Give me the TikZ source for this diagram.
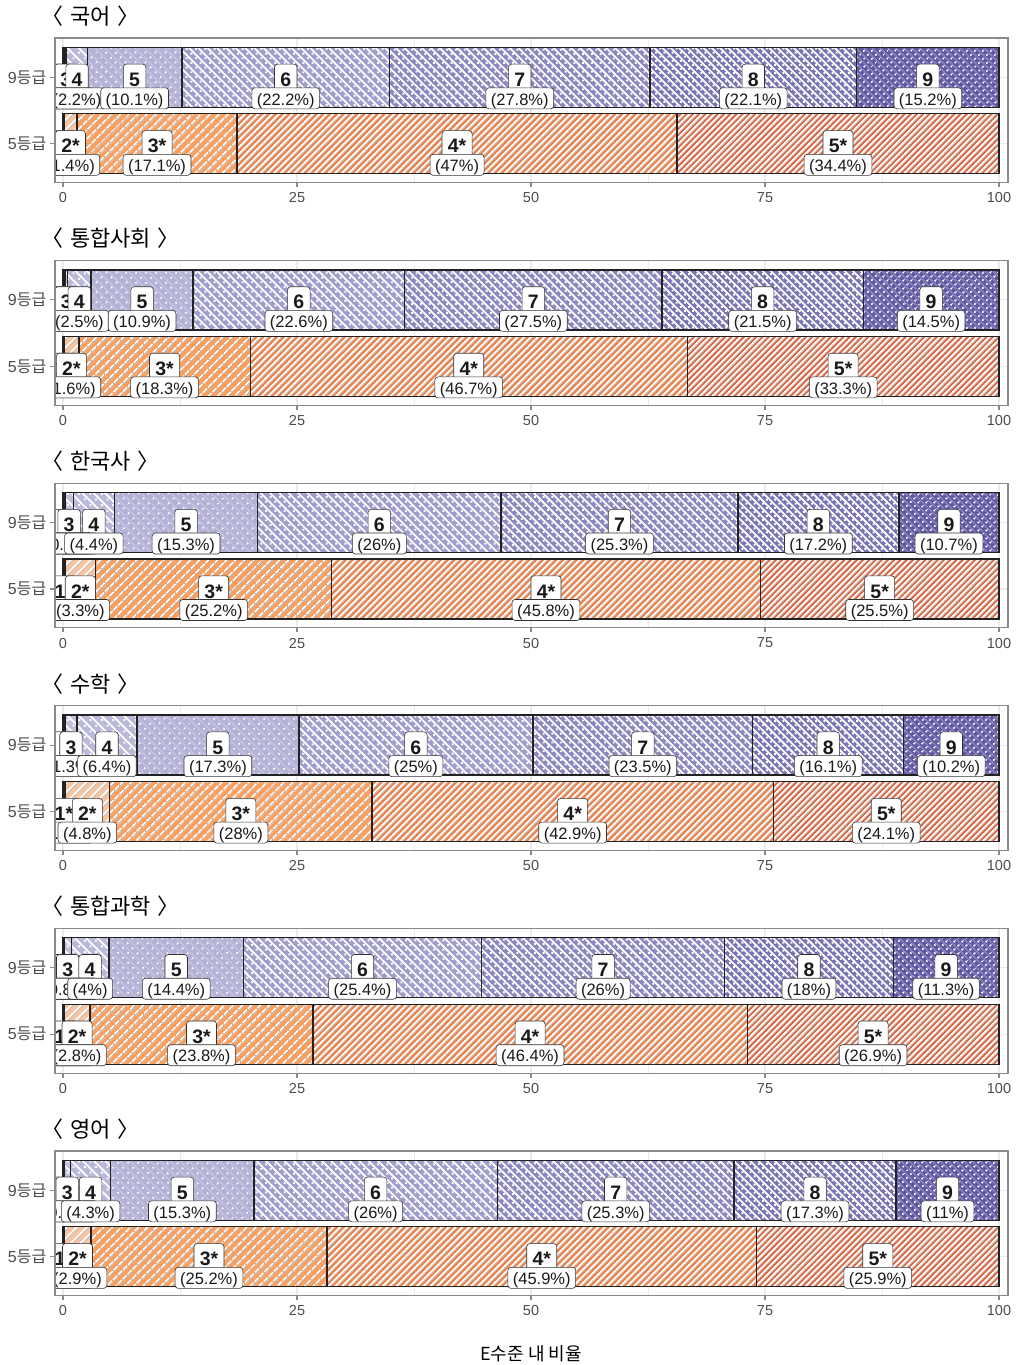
\documentclass[tikz,border=0pt]{standalone}
\usepackage{fontspec}
\setmainfont{Liberation Sans}
\newfontfamily\cjk{Noto Sans CJK KR}
\newfontfamily\cjkt{Noto Sans CJK KR}[RawFeature=+palt]
\usetikzlibrary{patterns.meta}
\definecolor{pc1}{HTML}{C9C7E1}
\definecolor{pc2}{HTML}{C9C7E1}
\definecolor{pc3}{HTML}{C2C0DD}
\definecolor{pc4}{HTML}{BBB9D9}
\definecolor{pc5}{HTML}{B3B1D5}
\definecolor{pc6}{HTML}{A09CCB}
\definecolor{pc7}{HTML}{8C87BF}
\definecolor{pc8}{HTML}{7A74B4}
\definecolor{pc9}{HTML}{5F57A2}
\definecolor{oc1}{HTML}{F8C4A0}
\definecolor{oc2}{HTML}{F8C4A0}
\definecolor{oc3}{HTML}{F7A062}
\definecolor{oc4}{HTML}{F07E40}
\definecolor{oc5}{HTML}{E25A30}
\definecolor{stripeg}{HTML}{C8C0BA}
\definecolor{labline}{HTML}{333333}
\definecolor{labtext}{HTML}{1A1A1A}
\definecolor{barcol}{HTML}{222222}
\definecolor{gridc}{HTML}{EBEBEB}
\definecolor{tickc}{HTML}{8A8A8A}
\definecolor{bordc}{HTML}{8A8A8A}
\definecolor{ticktxt}{HTML}{4D4D4D}
\tikzset{
  numlab/.style={fill=white, draw=labline, line width=0.6pt, rounded corners=3pt,
    inner xsep=5.8pt, inner ysep=5pt, text height=17.2pt, text depth=3pt, anchor=north,
    font=\fontsize{19.5}{20}\selectfont\bfseries, text=labtext},
  pctlab/.style={fill=white, draw=labline, line width=0.6pt, rounded corners=3pt,
    inner xsep=5pt, inner ysep=3.75pt, text height=13.5pt, text depth=0pt,
    font=\fontsize{16.5}{16.5}\selectfont, text=labtext},
  barline/.style={draw=barcol, line width=1.3pt},
  grmaj/.style={draw=gridc, line width=1.1pt},
  grmin/.style={draw=gridc, line width=0.55pt},
  tickln/.style={draw=tickc, line width=1.1pt},
  ticklab/.style={font=\fontsize{14.5}{15}\selectfont, text=ticktxt, inner sep=0pt},
  ylab/.style={font=\fontsize{16}{16}\selectfont, text=ticktxt, inner sep=0pt, anchor=east},
  ptitle/.style={font=\cjkt\fontsize{22}{22}\selectfont, anchor=west, inner sep=0pt, text=black},
  pborder/.style={draw=bordc, line width=1.1pt},
}
\newcommand\psegm[4]{%
  \pgfmathsetmacro\pd{{8,8,8,8,8,7.4,6.6,6.2,5.8,5.4}[#1]}%
  \pgfmathsetmacro\pdh{\pd/2}%
  \fill[pc#1] (#2,#4) rectangle (#3,#4+60);
  \path[pattern={Lines[angle=-45,distance=\pd pt,line width=1.8pt,yshift=\pdh pt]},pattern color=white,fill opacity=0.25] (#2,#4) rectangle (#3,#4+60);
  \path[pattern={Dots[radius=1.35pt,distance=\pd pt,angle=45]},pattern color=white] (#2,#4) rectangle (#3,#4+60);
}
\newcommand\osegm[4]{%
  \pgfmathsetmacro\od{{7,7,7,6.4,4.8,4.4}[#1]}%
  \fill[oc#1] (#2,#4) rectangle (#3,#4+60);
  \path[pattern={Lines[angle=45,distance=\od pt,line width=1.6pt]},pattern color=stripeg] (#2,#4) rectangle (#3,#4+60);
  \path[pattern={Lines[angle=45,distance=\od pt,line width=1.6pt,yshift=1.6pt]},pattern color=white] (#2,#4) rectangle (#3,#4+60);
}
\newcommand\barrow[3]{% seg macro, ytop, list
  \gdef\cum{0}%
  \foreach \g/\v in {#3}{
    \pgfmathsetmacro\xa{63+9.36*\cum}
    \pgfmathsetmacro\xb{63+9.36*(\cum+\v)}
    #1{\g}{\xa}{\xb}{#2}
    \pgfmathsetmacro\nc{\cum+\v}
    \global\let\cum\nc
  }
  \gdef\cum{0}%
  \foreach \g/\v in {#3}{
    \pgfmathsetmacro\xa{63+9.36*\cum}
    \pgfmathsetmacro\xb{63+9.36*(\cum+\v)}
    \draw[barline] (\xa,#2) rectangle (\xb,#2+60);
    \pgfmathsetmacro\nc{\cum+\v}
    \global\let\cum\nc
  }
}
\newcommand\labrow[5]{% ytop, list, suffix, panel, row
  \gdef\cum{0}%
  \foreach \g/\v in {#2}{
    \pgfmathsetmacro\xc{63+9.36*(\cum+\v/2)}
    \node[numlab] (n#4#5\g) at (\xc,#1+30-13.5) {\g#3};
    \pgfmathsetmacro\nc{\cum+\v}
    \global\let\cum\nc
  }
  \gdef\cum{0}%
  \foreach \g/\v in {#2}{
    \pgfmathsetmacro\xc{63+9.36*(\cum+\v/2)}
    \node[pctlab] (q#4#5\g) at (\xc,#1+30+21) {(\v\%)};
    \pgfmathsetmacro\nc{\cum+\v}
    \global\let\cum\nc
  }
}
\newcommand\panel[4]{%
  \pgfmathsetmacro\PT{38+222.6*#1}
  \node[ptitle] (title#1) at (52,\PT-22) {〈\hspace{7pt}#2\hspace{7pt}〉};
  \begin{scope}
    \clip (55,\PT) rectangle (1008,\PT+144.7);
    \foreach \t in {12.5,37.5,62.5,87.5} \draw[grmin] ({63+9.36*\t},\PT) -- ++(0,144.7);
    \foreach \t in {0,25,50,75,100} \draw[grmaj] ({63+9.36*\t},\PT) -- ++(0,144.7);
    \draw[grmaj] (55,\PT+39.3) -- (1008,\PT+39.3);
    \draw[grmaj] (55,\PT+105.8) -- (1008,\PT+105.8);
    \barrow\psegm{\PT+9.3}{#3}
    \barrow\osegm{\PT+75.8}{#4}
    \labrow{\PT+9.3}{#3}{}{#1}{a}
    \labrow{\PT+75.8}{#4}{*}{#1}{b}
  \end{scope}
  \draw[pborder] (55,\PT) rectangle (1008,\PT+144.7);
  \foreach \t in {0,25,50,75,100}{
    \draw[tickln] ({63+9.36*\t},\PT+144.7) -- ++(0,4.5);
    \node[ticklab,anchor=north] (xt#1-\t) at ({63+9.36*\t},\PT+154.5) {\t};
  }
  \draw[tickln] (50,\PT+39.3) -- (55,\PT+39.3);
  \draw[tickln] (50,\PT+105.8) -- (55,\PT+105.8);
  \node[ylab] (ya#1) at (46.5,\PT+39.3) {9{\cjk 등급}};
  \node[ylab] (yb#1) at (46.5,\PT+105.8) {5{\cjk 등급}};
}
\begin{document}
\begin{tikzpicture}[x=1pt,y=-1pt]
\useasboundingbox (0,0) rectangle (1017,1365);
\fill[white] (0,0) rectangle (1017,1365);
\panel{0}{국어}{1/0.1,2/0.1,3/0.2,4/2.2,5/10.1,6/22.2,7/27.8,8/22.1,9/15.2}{1/0.1,2/1.4,3/17.1,4/47,5/34.4}
\panel{1}{통합사회}{1/0.1,2/0.1,3/0.3,4/2.5,5/10.9,6/22.6,7/27.5,8/21.5,9/14.5}{1/0.1,2/1.6,3/18.3,4/46.7,5/33.3}
\panel{2}{한국사}{1/0.1,2/0.1,3/0.9,4/4.4,5/15.3,6/26,7/25.3,8/17.2,9/10.7}{1/0.2,2/3.3,3/25.2,4/45.8,5/25.5}
\panel{3}{수학}{1/0.1,2/0.1,3/1.3,4/6.4,5/17.3,6/25,7/23.5,8/16.1,9/10.2}{1/0.2,2/4.8,3/28,4/42.9,5/24.1}
\panel{4}{통합과학}{1/0.05,2/0.05,3/0.8,4/4,5/14.4,6/25.4,7/26,8/18,9/11.3}{1/0.1,2/2.8,3/23.8,4/46.4,5/26.9}
\panel{5}{영어}{1/0.05,2/0.05,3/0.7,4/4.3,5/15.3,6/26,7/25.3,8/17.3,9/11}{1/0.1,2/2.9,3/25.2,4/45.9,5/25.9}
\node[font=\cjk\fontsize{18}{18}\selectfont, text=black, inner sep=0pt] (xlab) at (531,1354) {E수준 내 비율};
\end{tikzpicture}
\end{document}
